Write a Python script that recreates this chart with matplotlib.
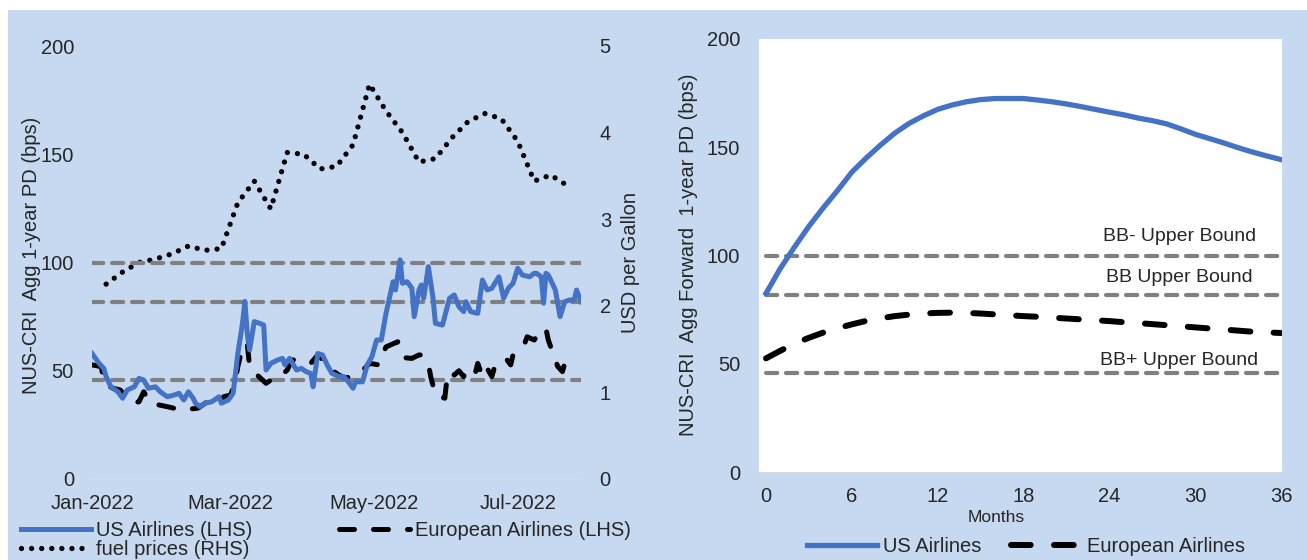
import matplotlib
matplotlib.use('Agg')
import matplotlib.pyplot as plt
import matplotlib.dates as mdates
from matplotlib.patches import Rectangle
import pandas as pd

plt.rcParams['font.family'] = ['Liberation Sans', 'DejaVu Sans']

# ---- left panel data (days counted from 2022-01-01) ----
us_day = [0, 3, 5, 6, 8, 11, 13, 15, 18, 20, 22, 24, 27, 29, 32, 35, 37, 39, 41, 43,
          44, 46, 48, 51, 54, 55, 58, 60, 62, 64, 65, 66, 67, 69, 71, 73, 74, 76, 79, 81,
          82, 84, 87, 89, 91, 93, 94, 96, 98, 100, 102, 105, 107, 109, 111, 112, 115, 117, 119, 121,
          123, 125, 128, 129, 131, 132, 134, 136, 137, 139, 140, 141, 143, 145, 146, 149, 152, 154, 156, 158,
          159, 161, 164, 166, 168, 170, 173, 175, 177, 179, 181, 183, 186, 188, 189, 191, 192, 193, 194, 197,
          199, 201, 203, 205, 206, 208]
us_pd = [58, 53.4, 51.1, 47.3, 42.6, 40.3, 37.3, 41.1, 42.6, 46.5, 45.7, 41.9, 42.6, 40.3, 38, 38.8, 39.6, 36.5, 40.3, 37.3,
         35, 33.4, 35, 35.7, 38, 35, 36.5, 39.6, 58, 72, 82, 67.3, 59.6, 72.7, 72, 71.1, 50.3, 53.4, 55, 55.7,
         52.7, 55.7, 50.3, 51.1, 49.6, 48.8, 42.6, 58, 57.3, 52.7, 48.8, 47.3, 47.3, 44.9, 41.9, 44.9, 44.9, 52.7, 56.5, 64.2,
         64.2, 76.5, 91.1, 87.3, 101.2, 90.4, 91.1, 88.1, 75, 87.3, 89.6, 83.5, 98.1, 83.5, 71.9, 71.1, 83.5, 85, 79.6, 77.3,
         81.9, 77.3, 76.5, 91.9, 87.3, 88.1, 93.4, 83.5, 88.1, 90.4, 97.3, 94.2, 93.4, 95, 95, 93.4, 81.2, 95, 94.2, 87.3,
         75, 81.9, 82.7, 82.7, 87.3, 81.9]

eu_day = [0, 4, 5, 9, 12, 15, 17, 20, 22, 24, 25, 32, 38, 45, 46, 49, 54, 56, 59, 61,
          62, 64, 66, 67, 68, 74, 76, 79, 83, 85, 88, 93, 96, 99, 102, 105, 108, 111, 113, 116,
          118, 122, 124, 125, 130, 131, 133, 136, 139, 140, 143, 144, 146, 150, 151, 153, 154, 156, 158, 160,
          161, 163, 164, 166, 167, 168, 170, 171, 173, 176, 178, 179, 181, 184, 185, 188, 191, 193, 194, 196,
          198, 200, 201, 204, 206]
eu_pd = [52.7, 51.9, 44.2, 41.9, 41.1, 37.3, 35, 35.7, 40.3, 36.5, 35, 33.4, 31.9, 32.7, 33.4, 35.7, 35, 38, 38.8, 45.7,
         51.9, 61.1, 62.7, 51.9, 50.3, 44.2, 45.7, 46.5, 50.3, 55, 55, 53.4, 57.3, 54.2, 50.3, 48, 46.5, 48, 49.6, 51.1,
         53.4, 52.7, 58.8, 61, 63.4, 58.8, 56, 55.7, 57.3, 57.3, 53.4, 47.3, 38.8, 37.3, 47.3, 49.6, 48, 50, 47.3, 51.1,
         51.1, 49, 53.4, 47.3, 50, 51.1, 47.3, 51.1, 52, 55.7, 52.7, 57.3, 60, 62.7, 65.7, 64.2, 68.8, 69.5, 64.2, 58,
         52, 49.6, 53.4, 54.2, 55]

fuel_week = pd.date_range('2022-01-07', '2022-07-22', freq='7D')
fuel_usd = [2.25, 2.39, 2.50, 2.54, 2.60, 2.69, 2.64, 2.66, 3.19, 3.44, 3.12, 3.77, 3.75, 3.58, 3.61,
            3.86, 4.56, 4.25, 4.00, 3.66, 3.70, 3.94, 4.13, 4.22, 4.16, 3.90, 3.44, 3.51, 3.39]

rating_bounds = [100, 81.7, 45.9]

# ---- right panel data ----
months = list(range(37))
us_fwd = [82.5, 94, 104, 113.5, 122, 130, 138.5, 145, 151, 156.5, 161, 164.5, 167.5, 169.5, 171, 172,
          172.5, 172.5, 172.5, 171.8, 171, 170, 168.8, 167.5, 166.2, 165, 163.5, 162.3, 160.8, 158.5,
          156, 154, 152, 149.8, 147.8, 146, 144.3]
eu_fwd = [52.5, 56, 59.3, 62, 64.4, 66.4, 68.2, 69.8, 71, 72, 72.7, 73.2, 73.5, 73.6, 73.5, 73.2,
          72.8, 72.4, 72, 71.7, 71.3, 70.9, 70.5, 70.1, 69.7, 69.2, 68.8, 68.3, 67.8, 67.3, 66.8,
          66.3, 65.8, 65.3, 64.8, 64.5, 64.2]
bound_labels = ['BB- Upper Bound', 'BB Upper Bound', 'BB+ Upper Bound']
bound_label_y = [108.8, 89.7, 51.4]

blue = '#4472C4'
grey = '#808080'
txt = '#262626'
fs = 14.5

start = pd.Timestamp('2022-01-01')
us_dates = start + pd.to_timedelta(us_day, unit='D')
eu_dates = start + pd.to_timedelta(eu_day, unit='D')

fig = plt.figure(figsize=(13.07, 5.6), dpi=100)
fig.patches.append(Rectangle((8 / 1307, 0), 1, 550 / 560, transform=fig.transFigure,
                             facecolor='#C6D9F0', edgecolor='none', zorder=-10))

# ================= left panel =================
ax = fig.add_axes([92 / 1307, 81 / 560, 489 / 1307, 433 / 560])
ax2 = ax.twinx()
ax.set_zorder(ax2.get_zorder() + 1)
ax.patch.set_visible(False)
ax2.patch.set_facecolor('white')

for b in rating_bounds:
    ax.axhline(b, color=grey, lw=3, dashes=(2.7, 2.1), dash_capstyle='round', zorder=1)
l_us, = ax.plot(us_dates, us_pd, color=blue, lw=3.6, solid_joinstyle='round', zorder=3)
l_eu, = ax.plot(eu_dates, eu_pd, color='black', lw=3.6, dashes=(3.0, 3.8),
                dash_capstyle='round', zorder=2)
l_fuel, = ax2.plot(fuel_week, fuel_usd, color='black', lw=3.8, linestyle=(0, (0.01, 1.9)),
                   dash_capstyle='round')

ax.set_ylim(0, 200)
ax.set_yticks([0, 50, 100, 150, 200])
ax2.set_ylim(0, 5)
ax2.set_yticks([0, 1, 2, 3, 4, 5])
ax.set_xlim(start, start + pd.Timedelta(days=207.9))
ax.xaxis.set_major_locator(mdates.MonthLocator(bymonth=[1, 3, 5, 7]))
ax.xaxis.set_major_formatter(mdates.DateFormatter('%b-%Y'))

for a in (ax, ax2):
    for s in a.spines.values():
        s.set_visible(False)
ax2.spines['bottom'].set_visible(True)
ax2.spines['bottom'].set_color('#D9D9D9')
ax.tick_params(axis='x', length=0, pad=11, labelsize=fs, labelcolor=txt)
ax.tick_params(axis='y', length=0, pad=13, labelsize=fs, labelcolor=txt)
ax2.tick_params(axis='y', length=0, pad=13.5, labelsize=fs, labelcolor=txt)

ax.set_ylabel('NUS-CRI  Agg 1-year PD (bps)', fontsize=fs, va='center', color=txt)
ax.yaxis.set_label_coords(-0.1227, 0.517)
ax2.set_ylabel('USD per Gallon', fontsize=fs, va='center', rotation=90, color=txt)
ax2.yaxis.set_label_coords(1.102, 0.499)

fig.legend([l_us, l_fuel, l_eu],
           ['US Airlines (LHS)', 'fuel prices (RHS)', 'European Airlines (LHS)'],
           ncol=2, loc='upper left', bbox_to_anchor=(20.7 / 1307, 1 - 521 / 560),
           frameon=False, fontsize=fs, handlelength=3.5, handletextpad=0.25,
           columnspacing=4.3, labelspacing=0.0, borderpad=0, borderaxespad=0,
           labelcolor=txt)

# ================= right panel =================
bx = fig.add_axes([759 / 1307, 88 / 560, 523 / 1307, 433 / 560])
bx.set_facecolor('white')
for b in rating_bounds:
    bx.hlines(b, months[0], months[-1], color=grey, lw=3, linestyles=(0, (2.7, 2.1)),
              capstyle='round', zorder=1)
r_us, = bx.plot(months, us_fwd, color=blue, lw=3.8, zorder=3)
r_eu, = bx.plot(months, eu_fwd, color='black', lw=4.3, dashes=(3.3, 3.9),
                dash_capstyle='round', zorder=2)
for lab, yv in zip(bound_labels, bound_label_y):
    bx.text(28.9, yv, lab, fontsize=14, ha='center', va='center', color=txt)

bx.set_xlim(-0.49, 36.07)
bx.set_ylim(0, 200)
bx.set_xticks([0, 6, 12, 18, 24, 30, 36])
bx.set_yticks([0, 50, 100, 150, 200])
for s in bx.spines.values():
    s.set_visible(False)
bx.spines['bottom'].set_visible(True)
bx.spines['bottom'].set_color('#D9D9D9')
bx.tick_params(axis='x', length=0, pad=11, labelsize=fs, labelcolor=txt)
bx.tick_params(axis='y', length=0, pad=13.5, labelsize=fs, labelcolor=txt)
bx.set_ylabel('NUS-CRI  Agg Forward  1-year PD (bps)', fontsize=fs, va='center', color=txt)
bx.yaxis.set_label_coords(-0.134, 0.501)
bx.set_xlabel('Months', fontsize=12.5, va='center', color=txt)
bx.xaxis.set_label_coords(0.453, -0.106)

fig.legend([r_us, r_eu], ['US Airlines', 'European Airlines'], ncol=2, loc='center left',
           bbox_to_anchor=(807 / 1307, 1 - 547 / 560), frameon=False, fontsize=fs,
           handlelength=3.5, handletextpad=0.25, columnspacing=1.5,
           borderpad=0, borderaxespad=0, labelcolor=txt)

fig.savefig('out.png', dpi=100, facecolor='white')
